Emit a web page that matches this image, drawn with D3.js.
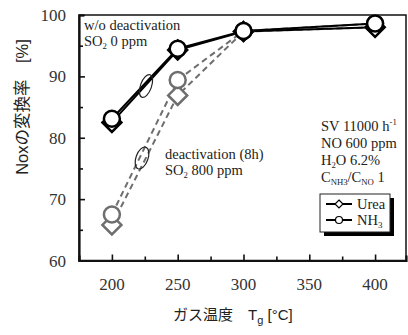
<!DOCTYPE html>
<html>
<head>
<meta charset="utf-8">
<script src="https://cdn.jsdelivr.net/npm/d3@7"></script>
<style>
  body { margin: 0; background: #fff; }
  svg { display: block; }
  .serif { font-family: "Liberation Serif", "DejaVu Serif", serif; }
  .sans { font-family: "Liberation Sans", "Noto Sans CJK JP", sans-serif; }
</style>
</head>
<body>
<div id="chart"></div>
<script>
// --- Data ---
const temps = [200, 250, 300, 400];
const ureaFresh = [82.5, 94.3, 97.3, 98.0];
const nh3Fresh = [83.1, 94.5, 97.4, 98.6];
const ureaDeact = [65.8, 86.9, 97.3, 98.0];
const nh3Deact = [67.5, 89.4, 97.4, 98.6];
const xTicks = [200, 250, 300, 350, 400];
const yTicks = [60, 70, 80, 90, 100];

const width = 408, height = 335;
const svg = d3.select("#chart").append("svg")
    .attr("width", width)
    .attr("height", height);

const x = d3.scaleLinear().domain([175, 423.5]).range([79, 406]);
const y = d3.scaleLinear().domain([60, 100]).range([260.5, 15]);

// --- Frame ---
svg.append("rect")
    .attr("x", x(175)).attr("y", y(100))
    .attr("width", x(423.5) - x(175)).attr("height", y(60) - y(100))
    .attr("fill", "none").attr("stroke", "#111").attr("stroke-width", 1.5);

// left + bottom axis (ticks inside)
const yAxis = svg.append("g")
    .attr("transform", `translate(${x(175)},0)`)
    .call(d3.axisRight(y).tickValues(d3.range(60, 101, 5)).tickSize(5).tickFormat(""));
yAxis.select(".domain").attr("stroke", "#111").attr("stroke-width", 2.2);
yAxis.selectAll(".tick line").attr("stroke", "#111").attr("stroke-width", 1.6)
    .attr("x2", d => d % 10 === 0 ? 6 : 4);

const xAxis = svg.append("g")
    .attr("transform", `translate(0,${y(60)})`)
    .call(d3.axisTop(x).tickValues(d3.range(200, 401, 25)).tickSize(5).tickFormat(""));
xAxis.select(".domain").attr("stroke", "#111").attr("stroke-width", 2.2);
xAxis.selectAll(".tick line").attr("stroke", "#111").attr("stroke-width", 1.6)
    .attr("y2", d => d % 50 === 0 ? -6 : -4);

// tick labels
svg.append("g").selectAll("text")
    .data(yTicks).join("text")
    .attr("class", "serif")
    .attr("x", 66).attr("y", d => y(d) + 6)
    .attr("text-anchor", "end")
    .attr("font-size", 17).attr("fill", "#333")
    .text(d => d);

svg.append("g").selectAll("text")
    .data(xTicks).join("text")
    .attr("class", "serif")
    .attr("x", d => x(d)).attr("y", 290)
    .attr("text-anchor", "middle")
    .attr("font-size", 17).attr("fill", "#333")
    .text(d => d);

// axis titles
svg.append("text")
    .attr("class", "sans")
    .attr("transform", "translate(28,107) rotate(-90)")
    .attr("text-anchor", "middle")
    .attr("font-size", 16.5).attr("fill", "#222")
    .text("Noxの変換率　[%]");

const xt = svg.append("text")
    .attr("class", "sans")
    .attr("x", 173).attr("y", 320)
    .attr("font-size", 15).attr("fill", "#222");
xt.append("tspan").text("ガス温度　T");
xt.append("tspan").attr("font-size", 11).attr("dy", 4).text("g");
xt.append("tspan").attr("dy", -4).text(" [°C]");

// --- Series ---
const line = d3.line().x(d => x(d[0])).y(d => y(d[1]));
const zip = vals => temps.map((t, i) => [t, vals[i]]);

const series = [
  { vals: ureaDeact, color: "#6e6e6e", dash: "6,4", shape: "diamond" },
  { vals: nh3Deact, color: "#6e6e6e", dash: "6,4", shape: "circle" },
  { vals: ureaFresh, color: "#000", dash: null, shape: "diamond" },
  { vals: nh3Fresh, color: "#000", dash: null, shape: "circle" }
];

series.forEach(s => {
  svg.append("path")
      .datum(zip(s.vals))
      .attr("d", line)
      .attr("fill", "none")
      .attr("stroke", s.color)
      .attr("stroke-width", 2)
      .attr("stroke-dasharray", s.dash);
});

function drawMarkers(s) {
  const g = svg.append("g");
  const pts = zip(s.vals);
  if (s.shape === "diamond") {
    g.selectAll("path").data(pts).join("path")
        .attr("d", d => {
          const cx = x(d[0]), cy = y(d[1]), r = 9.5;
          return `M${cx},${cy - r}L${cx + r},${cy}L${cx},${cy + r}L${cx - r},${cy}Z`;
        })
        .attr("fill", "#fff").attr("stroke", s.color).attr("stroke-width", 2.5);
  } else {
    g.selectAll("circle").data(pts).join("circle")
        .attr("cx", d => x(d[0])).attr("cy", d => y(d[1])).attr("r", 8)
        .attr("fill", "#fff").attr("stroke", s.color).attr("stroke-width", 2.5);
  }
}
series.forEach(drawMarkers);

// --- Annotations ---
function label(xp, yp, parts, size) {
  const t = svg.append("text").attr("class", "serif")
      .attr("x", xp).attr("y", yp).attr("font-size", size).attr("fill", "#222");
  parts.forEach(p => {
    const sp = t.append("tspan").text(p.t);
    if (p.sub) sp.attr("font-size", size * 0.6).attr("dy", 3);
    if (p.sup) sp.attr("font-size", size * 0.6).attr("dy", -6);
    if (p.back) sp.attr("dy", p.back);
  });
}

label(84, 30, [{ t: "w/o deactivation" }], 14.5);
label(84, 46, [{ t: "SO" }, { t: "2", sub: true }, { t: " 0 ppm", back: -3 }], 14.5);
label(165, 159, [{ t: "deactivation (8h)" }], 14.5);
label(165, 175, [{ t: "SO" }, { t: "2", sub: true }, { t: " 800 ppm", back: -3 }], 14.5);

label(321, 131, [{ t: "SV 11000 h" }, { t: "-1", sup: true }], 14.5);
label(321, 148, [{ t: "NO 600 ppm" }], 14.5);
label(321, 165, [{ t: "H" }, { t: "2", sub: true }, { t: "O 6.2%", back: -3 }], 14.5);
label(321, 182, [{ t: "C" }, { t: "NH3", sub: true }, { t: "/C", back: -3 }, { t: "NO", sub: true }, { t: "  1", back: -3 }], 14.5);

// grouping ellipses
svg.append("ellipse")
    .attr("cx", 146).attr("cy", 86).attr("rx", 5.5).attr("ry", 12)
    .attr("transform", "rotate(20,146,86)")
    .attr("fill", "none").attr("stroke", "#222").attr("stroke-width", 1.2);
svg.append("ellipse")
    .attr("cx", 142).attr("cy", 158).attr("rx", 6).attr("ry", 11.5)
    .attr("transform", "rotate(20,142,158)")
    .attr("fill", "none").attr("stroke", "#222").attr("stroke-width", 1.2);

// --- Legend ---
const lg = svg.append("g");
lg.append("rect").attr("x", 324).attr("y", 198).attr("width", 70).attr("height", 38).attr("fill", "#000");
lg.append("rect").attr("x", 320).attr("y", 194).attr("width", 70).attr("height", 38)
    .attr("fill", "#fff").attr("stroke", "#222").attr("stroke-width", 1);

const legendItems = [
  { name: "Urea", shape: "diamond", yy: 204 },
  { name: "NH", sub: "3", shape: "circle", yy: 220 }
];
legendItems.forEach(it => {
  lg.append("line").attr("x1", 326).attr("x2", 352).attr("y1", it.yy).attr("y2", it.yy)
      .attr("stroke", "#000").attr("stroke-width", 2);
  if (it.shape === "diamond") {
    lg.append("path").attr("d", `M339,${it.yy - 4}L343,${it.yy}L339,${it.yy + 4}L335,${it.yy}Z`)
        .attr("fill", "#fff").attr("stroke", "#000").attr("stroke-width", 1.2);
  } else {
    lg.append("circle").attr("cx", 339).attr("cy", it.yy).attr("r", 3.5)
        .attr("fill", "#fff").attr("stroke", "#000").attr("stroke-width", 1.2);
  }
  const t = lg.append("text").attr("class", "serif").attr("x", 357).attr("y", it.yy + 5)
      .attr("font-size", 14.5).attr("fill", "#222").text(it.name);
  if (it.sub) t.append("tspan").attr("font-size", 9).attr("dy", 3).text(it.sub);
});
</script>
</body>
</html>
